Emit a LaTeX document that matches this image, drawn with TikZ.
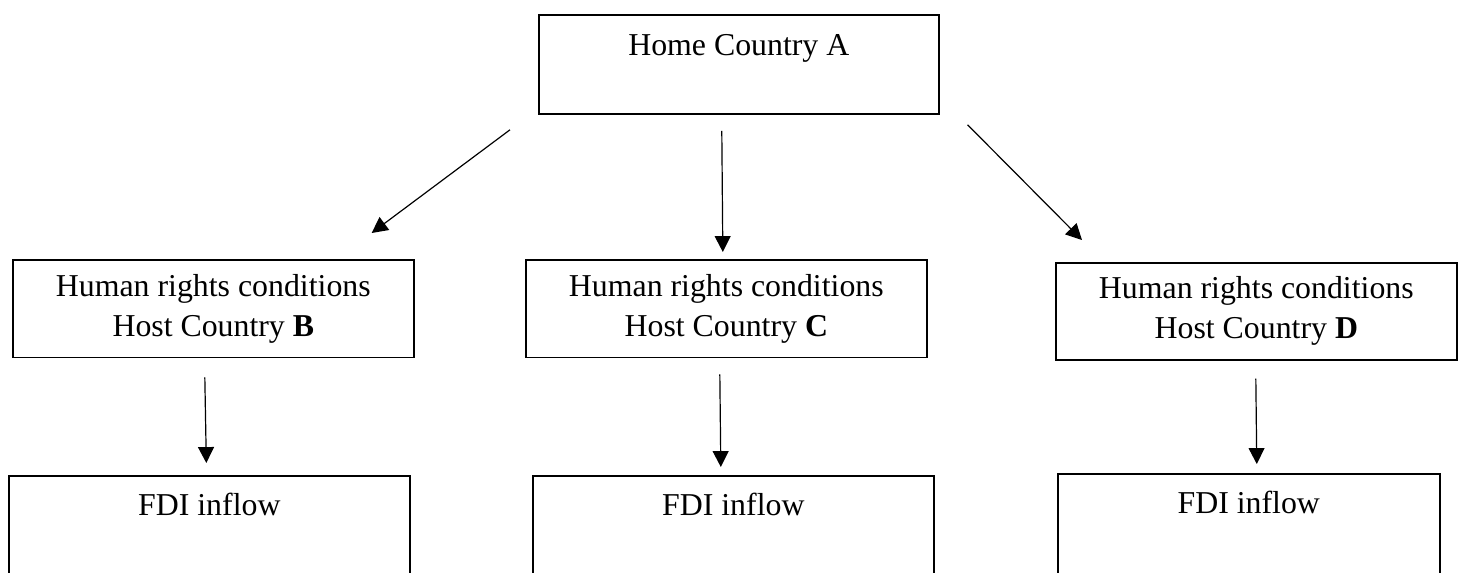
\documentclass[tikz,border=0pt]{standalone}
\usepackage{fontspec}
\setmainfont{Liberation Serif}
\usetikzlibrary{arrows.meta}
\usetikzlibrary{calc}
\tikzset{%
  >={Triangle[width=6pt,length=6pt]},
  % Specifications for style of nodes:
        base/.style = {rectangle, draw=black, line width=0.6pt, inner sep=0pt,
                       text centered, font=\fontsize{12}{15.1}\selectfont},
     homeBox/.style = {base, anchor=north west, minimum width=150.8pt,
                       text height=15.5pt, text depth=21.9pt},
     hostBox/.style = {base, anchor=north west, minimum width=151.2pt,
                       minimum height=36.9pt, align=center},
      fdiBox/.style = {base, anchor=north west, minimum width=151.2pt,
                       text height=15.1pt, text depth=27pt},
    flowLine/.style = {->, line width=0.45pt},
}
\begin{document}
\begin{tikzpicture}[x=0.377pt, y=-0.377pt]
  \useasboundingbox (0,0) rectangle (1461,572);
  \clip (0,0) rectangle (1461,572);
  % Specification of nodes (position, etc.)

  \node (home)  [homeBox] at (538,14) {Home Country A};
  \node (hostB) [hostBox] at (12,259) {Human rights conditions\\Host Country \textbf{B}};
  \node (hostC) [hostBox] at (525,259) {Human rights conditions\\Host Country \textbf{C}};
  \node (hostD) [hostBox, minimum height=36.6pt] at (1055,262) {Human rights conditions\\Host Country \textbf{D}};
  \node (fdiB)  [fdiBox] at (8,475) {FDI inflow};
  \node (fdiC)  [fdiBox] at (532,475) {FDI inflow};
  \node (fdiD)  [fdiBox, minimum width=144pt] at (1057,473) {FDI inflow};

  % Specification of lines between nodes specified above

  \draw[flowLine] ($(home.south west)+(-28,15)$) -- ($(hostB.north east)+(-43,-26)$);
  \draw[flowLine] ($(home.south)+(-17,16)$) -- ($(hostC.north)+(-3.5,-7)$);
  \draw[flowLine] ($(home.south east)+(28,10)$) -- ($(hostD.north west)+(27,-22)$);

  \draw[flowLine] ($(hostB.south)+(-8.5,19)$) -- ($(fdiB.north)+(-3,-12)$);
  \draw[flowLine] ($(hostC.south)+(-6.5,16)$) -- ($(fdiC.north)+(-12.5,-8)$);
  \draw[flowLine] ($(hostD.south)+(-0.5,18)$) -- ($(fdiD.north)+(8,-9)$);
\end{tikzpicture}
\end{document}
